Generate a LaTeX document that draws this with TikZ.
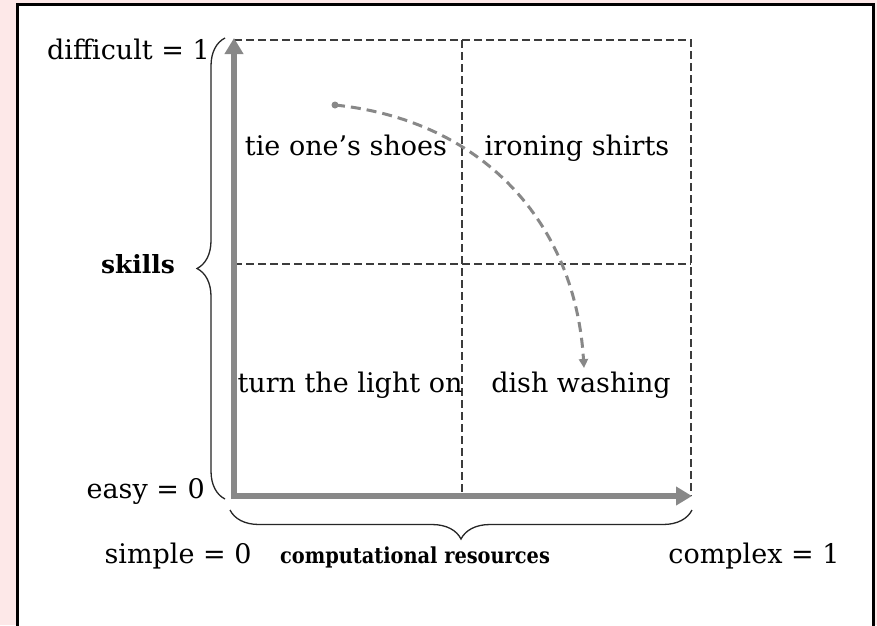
\documentclass[tikz,border=0pt]{standalone}
\usepackage{fontspec}
\setmainfont{DejaVu Serif}
\newfontfamily\compfont{DejaVu Serif}[FakeStretch=0.88]
\usetikzlibrary{arrows.meta,decorations.pathreplacing}
\definecolor{pinkbg}{RGB}{253,232,232}
\definecolor{axisgray}{RGB}{136,136,136}
\definecolor{gridgray}{RGB}{60,60,60}
\tikzset{
  axisline/.style={draw=axisgray, line width=6pt, -{Triangle[length=16pt,width=18pt]}},
  gridline/.style={draw=gridgray, line width=1.2pt, dash pattern=on 8pt off 4pt},
  bracestyle/.style={draw=black!85, line width=1.3pt, decorate},
  lbl/.style={font=\fontsize{27}{32}\selectfont, inner sep=0pt, anchor=base},
  curvestyle/.style={draw=axisgray, line width=3pt, dash pattern=on 10pt off 6pt, -{Triangle[length=9pt,width=9pt]}},
}
\begin{document}
\begin{tikzpicture}[x=1pt,y=-1pt]
\useasboundingbox (0,0) rectangle (877,625);
\fill[pinkbg] (0,0) rectangle (877,625);
\draw[black, line width=3pt, fill=white] (17,4) rectangle (873,650);
% coordinates
\coordinate (O) at (234,496);
\coordinate (Ob) at (234,499);
\coordinate (Ol) at (231,496);
\coordinate (Y) at (234,38);
\coordinate (X) at (692,496);
\coordinate (TL) at (234,40);
\coordinate (TR) at (691,40);
\coordinate (BR) at (691,496);
\coordinate (MT) at (462,40);
\coordinate (MB) at (462,496);
\coordinate (ML) at (234,264);
\coordinate (MR) at (691,264);
% grid
\draw[gridline] (TL) -- (TR) -- (BR);
\draw[gridline] (MT) -- (MB);
\draw[gridline] (ML) -- (MR);
% axes
\draw[axisline] (Ob) -- (Y);
\draw[axisline] (Ol) -- (X);
% braces
\coordinate (LB1) at (225,499);
\coordinate (LB2) at (225,38);
\draw[bracestyle, decoration={brace, amplitude=28pt}] (LB1) -- (LB2);
\coordinate (BB1) at (692,510);
\coordinate (BB2) at (230,510);
\draw[bracestyle, decoration={brace, amplitude=29pt}] (BB1) -- (BB2);
% labels
\node[lbl, anchor=base east] (diff) at (210,59) {difficult = 1};
\node[lbl, anchor=base east] (easy) at (205,498) {easy = 0};
\node[lbl, font=\fontsize{25}{30}\selectfont\bfseries] (skills) at (138,273) {skills};
\node[lbl] (simple) at (178,563) {simple = 0};
\node[lbl, font=\fontsize{22}{27}\selectfont\compfont\bfseries] (comp) at (415,563) {computational resources};
\node[lbl] (complex) at (754,563) {complex = 1};
\node[lbl] (shoes) at (346,155) {tie one’s shoes};
\node[lbl] (iron) at (577,155) {ironing shirts};
\node[lbl] (light) at (350,392) {turn the light on};
\node[lbl] (dish) at (581,392) {dish washing};
% curve
\coordinate (cs) at (335,105);
\coordinate (ce) at (584,368);
\fill[axisgray] (cs) circle (3.5pt);
\draw[curvestyle] (cs) .. controls (480,120) and (575,220) .. (ce);
\end{tikzpicture}
\end{document}
